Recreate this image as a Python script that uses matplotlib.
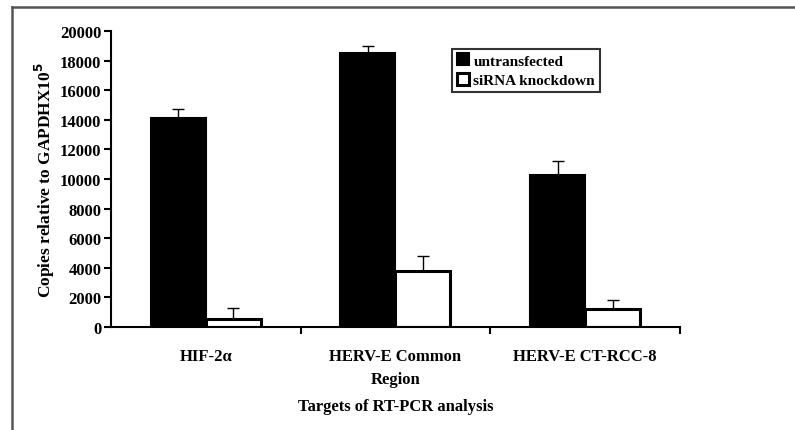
import matplotlib
matplotlib.use("Agg")
from matplotlib import pyplot as plt
from matplotlib.lines import Line2D
import numpy as np

plt.rcParams['font.family'] = ['Liberation Serif', 'DejaVu Serif']
plt.rcParams['font.weight'] = 'bold'

categories = ["HIF-2\u03b1", "HERV-E Common\nRegion", "HERV-E CT-RCC-8"]
untransfected = [14100, 18500, 10300]
untransfected_err = [600, 450, 900]
knockdown = [550, 3800, 1200]
knockdown_err = [750, 1000, 600]
yticks = np.arange(0, 20001, 2000)

fig = plt.figure(figsize=(7.95, 4.31), dpi=100)
ax = fig.add_axes([0.1396, 0.239, 0.7157, 0.687])

x = np.arange(len(categories))
w = 0.29
ax.bar(x - w / 2, untransfected, w, color='black', edgecolor='black', linewidth=1.5,
       label='untransfected', zorder=2)
ax.bar(x + w / 2, knockdown, w, color='white', edgecolor='black', linewidth=2.2,
       label='siRNA knockdown', zorder=2)
ax.errorbar(x - w / 2, untransfected, yerr=[np.zeros(3), untransfected_err], fmt='none',
            ecolor='black', elinewidth=1, capsize=4, capthick=1, zorder=1)
ax.errorbar(x + w / 2, knockdown, yerr=[np.zeros(3), knockdown_err], fmt='none',
            ecolor='black', elinewidth=1, capsize=4, capthick=1, zorder=1)

ax.set_xlim(-0.5, 2.5)
ax.set_ylim(0, 20000)
ax.set_yticks(yticks)
ax.set_yticklabels([str(v) for v in yticks], fontsize=12, fontweight='bold')
ax.set_xticks(x)
ax.set_xticklabels(categories, fontsize=12, fontweight='bold', linespacing=1.6)
ax.tick_params(axis='x', which='major', length=0, pad=15)
ax.set_xticks([0.5, 1.5, 2.5], minor=True)
ax.tick_params(axis='x', which='minor', length=5, width=1.5, direction='out')
ax.tick_params(axis='y', length=5, width=1.5, direction='out', pad=2)
for s in ['top', 'right']:
    ax.spines[s].set_visible(False)
for s in ['left', 'bottom']:
    ax.spines[s].set_linewidth(1.5)

ax.set_ylabel("Copies relative to GAPDHX10$^{\\mathbf{5}}$", fontsize=12.5, fontweight='bold',
              labelpad=2)
ax.set_xlabel("Targets of RT-PCR analysis", fontsize=12, fontweight='bold', labelpad=8)

leg = ax.legend(loc='upper left', bbox_to_anchor=(0.586, 0.965), fontsize=11,
                frameon=True, fancybox=False, edgecolor='black', handlelength=0.8,
                handleheight=0.8, handletextpad=0.3, borderpad=0.3, labelspacing=0.35)
leg.get_frame().set_linewidth(1.5)
leg.get_frame().set_edgecolor('black')

# outer gray frame
fx = 12 / 795
fy = 1 - 8 / 431
fig.add_artist(Line2D([fx, fx], [0, fy], transform=fig.transFigure, color='#555555', linewidth=1.8))
fig.add_artist(Line2D([fx, 1], [fy, fy], transform=fig.transFigure, color='#555555', linewidth=1.8))

fig.savefig("out.png", dpi=100)
